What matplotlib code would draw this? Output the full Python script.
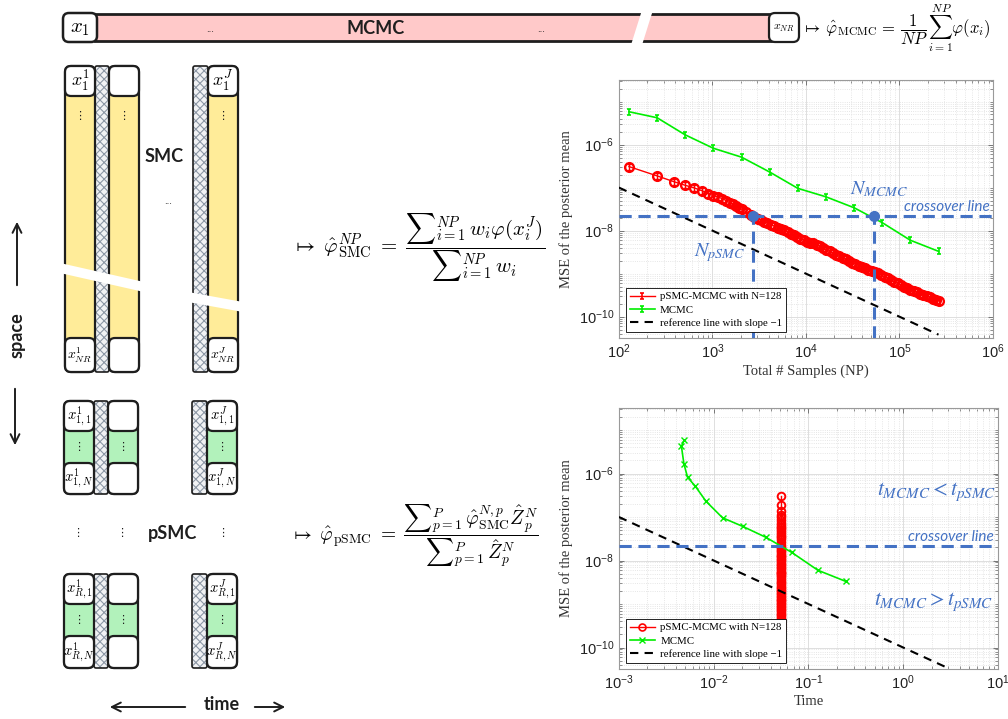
import numpy as np
import matplotlib
matplotlib.use("Agg")
import matplotlib.pyplot as plt
from matplotlib.patches import FancyBboxPatch, Rectangle, Polygon
from matplotlib.path import Path
from matplotlib.lines import Line2D
from matplotlib.ticker import LogLocator, LogFormatterMathtext, NullFormatter, FixedLocator

# ---------------- data ----------------
mcmc_np = [128, 256, 512, 1024, 2048, 4096, 8192, 16384, 32768, 65536, 131072, 262144]
mcmc_mse = [5.8e-6, 4.2e-6, 1.68e-6, 8.2e-7, 5.1e-7, 2.3e-7, 9.6e-8, 6.1e-8,
            3.4e-8, 1.53e-8, 5.96e-9, 3.3e-9]
mcmc_time = [4.87e-3, 4.57e-3, 4.85e-3, 5.3e-3, 6.4e-3, 8.3e-3, 0.0124, 0.0202,
             0.0357, 0.0668, 0.126, 0.249]

psmc_np = [128, 256, 384, 512, 640, 768, 896, 1024, 1152, 1280, 1408, 1536, 1664, 1792,
           1920, 2048, 2304, 2560, 2816, 3072, 3328, 3584, 3840, 4224, 4608, 4992, 5376,
           5888, 6400, 6912, 7424, 8064, 8704, 9472, 10240, 11136, 12032, 13056, 14080,
           15232, 16512, 17920, 19456, 20992, 22784, 24704, 26752, 28928, 31360, 33920,
           36736, 39808, 43136, 46720, 50560, 54784, 59264, 64256, 69504, 75264, 81536,
           88320, 95616, 103552, 112128, 121344, 131456, 142336, 154112, 166912, 180736,
           195712, 211968, 229504, 248576, 262144]
psmc_mse = [3.08e-7, 1.87e-7, 1.38e-7, 1.13e-7, 9.82e-8, 8.51e-8, 7.24e-8, 6.52e-8,
            5.98e-8, 5.55e-8, 4.94e-8, 4.45e-8, 4.05e-8, 3.71e-8, 3.41e-8, 3.16e-8,
            2.69e-8, 2.33e-8, 2.07e-8, 1.89e-8, 1.74e-8, 1.62e-8, 1.51e-8,
            1.37e-8, 1.27e-8, 1.18e-8, 1.10e-8, 1.02e-8,
            9.33e-9, 8.51e-9, 7.83e-9, 7.11e-9, 6.55e-9, 5.98e-9, 5.50e-9,
            5.26e-9, 5.07e-9, 4.68e-9, 4.29e-9, 3.93e-9,
            3.58e-9, 3.28e-9, 3.00e-9, 2.76e-9, 2.52e-9, 2.31e-9, 2.13e-9, 1.95e-9, 1.79e-9,
            1.66e-9, 1.54e-9, 1.43e-9, 1.32e-9, 1.23e-9, 1.15e-9, 1.08e-9,
            1.01e-9, 9.20e-10, 8.43e-10, 7.73e-10, 7.10e-10, 6.50e-10, 5.96e-10,
            5.47e-10, 5.01e-10, 4.61e-10, 4.23e-10, 3.95e-10, 3.70e-10, 3.45e-10,
            3.23e-10, 3.02e-10, 2.82e-10, 2.64e-10, 2.46e-10, 2.35e-10]
psmc_time = 0.051

ref_np = [100, 262144]
ref_np_mse = [1e-7, 3.81e-11]
ref_time = [1e-3, 2.8]
ref_time_mse = [1e-7, 3.57e-11]

crossover_mse = 2.15e-8
n_psmc_cross = 2700
n_mcmc_cross = 53000

legend_labels_1 = ["pSMC-MCMC with N=128", "MCMC", "reference line with slope \u22121"]

# ---------------- figure ----------------
plt.rcParams["font.family"] = ["Liberation Sans", "DejaVu Sans"]
plt.rcParams["hatch.linewidth"] = 0.8
fig = plt.figure(figsize=(10.08, 7.19), dpi=100)

# overlay axes in pixel coordinates for the schematic
dax = fig.add_axes([0, 0, 1, 1], zorder=0)
dax.set_xlim(0, 1008)
dax.set_ylim(719, 0)
dax.axis("off")

INK = "#1e1e1e"
YEL = "#ffec99"
GRN = "#b2f2bb"
PINK = "#ffc9c9"
HAND = dict(family=["Lato", "DejaVu Sans"], weight="bold", color=INK)


def rbox(x0, y0, x1, y1, fc="white", lw=1.6, r=5, z=3):
    dax.add_patch(FancyBboxPatch((x0, y0), x1 - x0, y1 - y0,
                                 boxstyle=f"round,pad=0,rounding_size={r}",
                                 fc=fc, ec=INK, lw=lw, zorder=z))


def hstrip(x0, y0, x1, y1):
    dax.add_patch(Rectangle((x0, y0), x1 - x0, y1 - y0, fc="#f1f2f4", ec="#8d98a6",
                            lw=0, hatch="xxxx", zorder=2))
    dax.add_patch(FancyBboxPatch((x0, y0), x1 - x0, y1 - y0,
                                 boxstyle="round,pad=0,rounding_size=2",
                                 fill=False, ec=INK, lw=1.2, zorder=2.5))


def mtext(x, y, s, size, ha="center", va="center", z=6, **kw):
    dax.text(x, y, s, fontsize=size, ha=ha, va=va, math_fontfamily="cm",
             color="black", zorder=z, **kw)


# --- top MCMC bar ---
dax.add_patch(Rectangle((95, 14), 676, 27, fc=PINK, ec="none", zorder=1))
dax.plot([95, 771], [14, 14], color=INK, lw=2.0, zorder=1.5)
dax.plot([95, 771], [41, 41], color=INK, lw=2.0, zorder=1.5)
dax.add_patch(Polygon([(642, 10), (653, 10), (642, 45), (631, 45)], fc="white",
                      ec="none", zorder=4))
rbox(63, 13, 97, 42, r=6, lw=1.8)
rbox(769, 13, 799, 42, r=6, lw=1.6)
mtext(80, 28, r"$x_1$", 15)
mtext(784, 28, r"$x_{NR}$", 8.5)
dax.text(210, 29, "...", fontsize=7, ha="center", va="center", color=INK)
dax.text(541, 29, "...", fontsize=7, ha="center", va="center", color=INK)
dax.text(376, 28, "MCMC", fontsize=13, ha="center", va="center", **HAND)
mtext(802, 28, r"$\mapsto\, \hat{\varphi}_{\mathrm{MCMC}} \,=\, \dfrac{1}{NP}\,\sum_{i=1}^{NP}\varphi(x_i)$",
      12, ha="left")

# --- SMC ---
smc_top, smc_bot = 66, 372
for (x0, x1) in [(65, 95), (109, 139), (208, 238)]:
    rbox(x0, smc_top, x1, smc_bot, fc=YEL, r=6)
    rbox(x0, smc_top, x1, 96, r=6)
    rbox(x0, 338, x1, smc_bot, r=6)
hstrip(95, smc_top, 109, smc_bot)
hstrip(193, smc_top, 208, smc_bot)
dax.add_patch(Polygon([(60, 263), (144, 282), (144, 292), (60, 273)], fc="white",
                      ec="none", zorder=5))
dax.add_patch(Polygon([(188, 292), (243, 302), (243, 312), (188, 302)], fc="white",
                      ec="none", zorder=5))
mtext(80, 81, r"$x_1^1$", 13)
mtext(80, 355, r"$x_{NR}^1$", 10)
mtext(223, 81, r"$x_1^J$", 13)
mtext(223, 355, r"$x_{NR}^J$", 10)
for xx in (80, 124, 223):
    dax.text(xx, 116, "\u22ee", fontsize=8, ha="center", va="center", color=INK,
             family="DejaVu Sans", zorder=6)
dax.text(164, 157, "SMC", fontsize=13, ha="center", va="center", **HAND)
dax.text(168, 201, "...", fontsize=7, ha="center", va="center", color=INK)

# --- space arrows ---
arrow_kw = dict(arrowstyle="->", lw=1.4, color=INK, mutation_scale=16)
dax.annotate("", xy=(17, 219), xytext=(17, 288), arrowprops=arrow_kw)
dax.text(17, 335, "space", fontsize=13, rotation=90, ha="center", va="center", **HAND)
dax.annotate("", xy=(15, 448), xytext=(15, 386), arrowprops=arrow_kw)

# --- pSMC ---
for (top, mid1, mid2, bot, lab) in [(401, 431, 463, 494, "1"), (574, 604, 636, 668, "R")]:
    for (x0, x1) in [(64, 94), (108, 138), (207, 237)]:
        rbox(x0, top, x1, bot, fc=GRN, r=6)
        rbox(x0, top, x1, mid1, r=6)
        rbox(x0, mid2, x1, bot, r=6)
        dax.text((x0 + x1) / 2, (mid1 + mid2) / 2, "\u22ee", fontsize=8, ha="center",
                 va="center", color=INK, family="DejaVu Sans", zorder=6)
    hstrip(94, top, 108, bot)
    hstrip(192, top, 207, bot)
    mtext(79, (top + mid1) / 2, r"$x_{%s,1}^1$" % lab, 10.5)
    mtext(79, (mid2 + bot) / 2, r"$x_{%s,N}^1$" % lab, 10.5)
    mtext(222, (top + mid1) / 2, r"$x_{%s,1}^J$" % lab, 10.5)
    mtext(222, (mid2 + bot) / 2, r"$x_{%s,N}^J$" % lab, 10.5)
for xx in (78, 122, 223):
    dax.text(xx, 533, "\u22ee", fontsize=8, ha="center", va="center", color=INK,
             family="DejaVu Sans", zorder=6)
dax.text(173, 533, "pSMC", fontsize=13, ha="center", va="center", **HAND)

# --- time arrow ---
dax.annotate("", xy=(107, 707), xytext=(188, 707), arrowprops=arrow_kw)
dax.text(222, 704, "time", fontsize=13, ha="center", va="center", **HAND)
dax.annotate("", xy=(288, 707), xytext=(252, 707), arrowprops=arrow_kw)

# --- formulas ---
mtext(292, 248, r"$\mapsto\; \hat{\varphi}_{\mathrm{SMC}}^{NP} \;=\; \dfrac{{\sum}_{i=1}^{NP}\, w_i \varphi(x_i^J)}{{\sum}_{i=1}^{NP}\, w_i}$",
      15, ha="left")
mtext(290, 536, r"$\mapsto\; \hat{\varphi}_{\mathrm{pSMC}} \;=\; \dfrac{{\sum}_{p=1}^{P}\, \hat{\varphi}_{\mathrm{SMC}}^{N,p}\hat{Z}_p^N}{{\sum}_{p=1}^{P}\, \hat{Z}_p^N}$",
      14, ha="left")

# ---------------- plots ----------------
BLUE = "#4472c4"
RED = "#ff0000"
GREEN = "#00ee00"
I_marker = Path([(-0.6, -1), (0.6, -1), (0, -1), (0, 1), (-0.6, 1), (0.6, 1)],
                [Path.MOVETO, Path.LINETO, Path.MOVETO, Path.LINETO, Path.MOVETO, Path.LINETO])
SERIF = ["Liberation Serif", "DejaVu Serif"]


def style_axes(ax, xlim, xmaj, xlabel):
    ax.set_xscale("log")
    ax.set_yscale("log")
    ax.set_xlim(*xlim)
    ax.set_ylim(3.2e-11, 3.2e-5)
    ax.xaxis.set_major_locator(FixedLocator(xmaj))
    ax.xaxis.set_major_formatter(LogFormatterMathtext())
    ax.xaxis.set_minor_locator(LogLocator(base=10, subs=np.arange(2, 10), numticks=100))
    ax.xaxis.set_minor_formatter(NullFormatter())
    ax.yaxis.set_major_locator(FixedLocator([1e-10, 1e-8, 1e-6]))
    ax.yaxis.set_major_formatter(LogFormatterMathtext())
    ax.yaxis.set_minor_locator(LogLocator(base=10, subs=np.arange(1, 10), numticks=100))
    ax.yaxis.set_minor_formatter(NullFormatter())
    ax.grid(True, which="major", color="#d9d9d9", lw=0.6, ls="-")
    ax.grid(True, which="minor", color="#dedede", lw=0.6, ls=":")
    ax.set_axisbelow(True)
    ax.tick_params(which="both", direction="in", top=True, right=True, color="#666666",
                   labelcolor="#222222", labelsize=10.5)
    ax.tick_params(which="major", length=3.5, width=0.6)
    ax.tick_params(which="minor", length=2, width=0.5)
    for s in ax.spines.values():
        s.set_color("#9a9a9a")
        s.set_linewidth(0.8)
    ax.set_ylabel("MSE of the posterior mean", family=SERIF, fontsize=10.5,
                  color="#333333", labelpad=4)
    ax.set_xlabel(xlabel, family=SERIF, fontsize=10.5, color="#333333", labelpad=2)


def make_legend(ax, handles):
    leg = ax.legend(handles, legend_labels_1, loc="lower left",
                    bbox_to_anchor=(0.019, 0.023), borderaxespad=0,
                    prop={"family": SERIF, "size": 7.8}, frameon=True, fancybox=False,
                    edgecolor="black", framealpha=1, handlelength=2.3,
                    handletextpad=0.5, borderpad=0.35, labelspacing=0.35)
    leg.get_frame().set_linewidth(0.6)
    leg.set_zorder(20)


# --- plot 1: MSE vs total samples ---
ax1 = fig.add_axes([0.614, 0.530, 0.371, 0.359], zorder=2)
style_axes(ax1, (1e2, 1e6), [1e2, 1e3, 1e4, 1e5, 1e6], "Total # Samples (NP)")
ax1.plot(psmc_np, psmc_mse, color=RED, lw=1.0, marker="o", mfc="none", mec=RED,
         ms=6.3, mew=1.7, zorder=3)
ax1.plot(psmc_np, psmc_mse, color=RED, lw=1.0, marker=I_marker, ms=4.5, mew=1.0,
         ls="none", zorder=3)
ax1.plot(mcmc_np, mcmc_mse, color=GREEN, lw=1.2, marker=I_marker, ms=5, mew=1.2, zorder=3)
ax1.plot(ref_np, ref_np_mse, color="black", lw=1.5, ls=(0, (4, 3)), zorder=3)
ax1.axhline(crossover_mse, color=BLUE, lw=2.2, ls=(0, (4, 2.2)), zorder=5)
ax1.plot([n_psmc_cross, n_psmc_cross], [3.2e-11, crossover_mse], color=BLUE, lw=2.2,
         ls=(0, (4, 2.2)), zorder=5)
ax1.plot([n_mcmc_cross, n_mcmc_cross], [3.2e-11, crossover_mse], color=BLUE, lw=2.2,
         ls=(0, (4, 2.2)), zorder=5)
ax1.plot([n_psmc_cross, n_mcmc_cross], [crossover_mse, crossover_mse], ls="none",
         marker="o", ms=7, color=BLUE, zorder=6)
ax1.text(0.695, 0.575, r"$N_{MCMC}$", transform=ax1.transAxes, fontsize=14.5, color=BLUE,
         ha="center", va="center", math_fontfamily="stix")
ax1.text(0.877, 0.508, "crossover line", transform=ax1.transAxes, fontsize=11,
         color=BLUE, ha="center", va="center", style="italic",
         family=["Lato", "DejaVu Sans"])
ax1.text(0.27, 0.33, r"$N_{pSMC}$", transform=ax1.transAxes, fontsize=14.5, color=BLUE,
         ha="center", va="center", math_fontfamily="stix")
h1 = [Line2D([], [], color=RED, lw=1.0, marker=I_marker, ms=5, mew=1.2),
      Line2D([], [], color=GREEN, lw=1.2, marker=I_marker, ms=5, mew=1.2),
      Line2D([], [], color="black", lw=1.5, ls=(0, (4, 3)))]
make_legend(ax1, h1)

# --- plot 2: MSE vs time ---
ax2 = fig.add_axes([0.614, 0.0695, 0.376, 0.363], zorder=2)
style_axes(ax2, (1e-3, 1e1), [1e-3, 1e-2, 1e-1, 1e0, 1e1], "Time")
ax2.plot([psmc_time] * len(psmc_mse), psmc_mse, color=RED, lw=1.0, marker="o",
         mfc="none", mec=RED, ms=5.5, mew=1.4, zorder=3)
ax2.plot(mcmc_time, mcmc_mse, color=GREEN, lw=1.2, marker="x", ms=4, mew=1.0, zorder=3)
ax2.plot(ref_time, ref_time_mse, color="black", lw=1.5, ls=(0, (4, 3)), zorder=3)
ax2.axhline(crossover_mse, color=BLUE, lw=2.2, ls=(0, (4, 2.2)), zorder=5)
ax2.text(0.839, 0.678, r"$t_{MCMC} < t_{pSMC}$", transform=ax2.transAxes, fontsize=15.5,
         color=BLUE, ha="center", va="center", math_fontfamily="stix")
ax2.text(0.876, 0.506, "crossover line", transform=ax2.transAxes, fontsize=11,
         color=BLUE, ha="center", va="center", style="italic",
         family=["Lato", "DejaVu Sans"])
ax2.text(0.831, 0.257, r"$t_{MCMC} > t_{pSMC}$", transform=ax2.transAxes, fontsize=15.5,
         color=BLUE, ha="center", va="center", math_fontfamily="stix")
h2 = [Line2D([], [], color=RED, lw=1.0, marker="o", mfc="none", ms=5, mew=1.2),
      Line2D([], [], color=GREEN, lw=1.2, marker="x", ms=4, mew=1.0),
      Line2D([], [], color="black", lw=1.5, ls=(0, (4, 3)))]
make_legend(ax2, h2)

fig.savefig("out.png", dpi=100)
